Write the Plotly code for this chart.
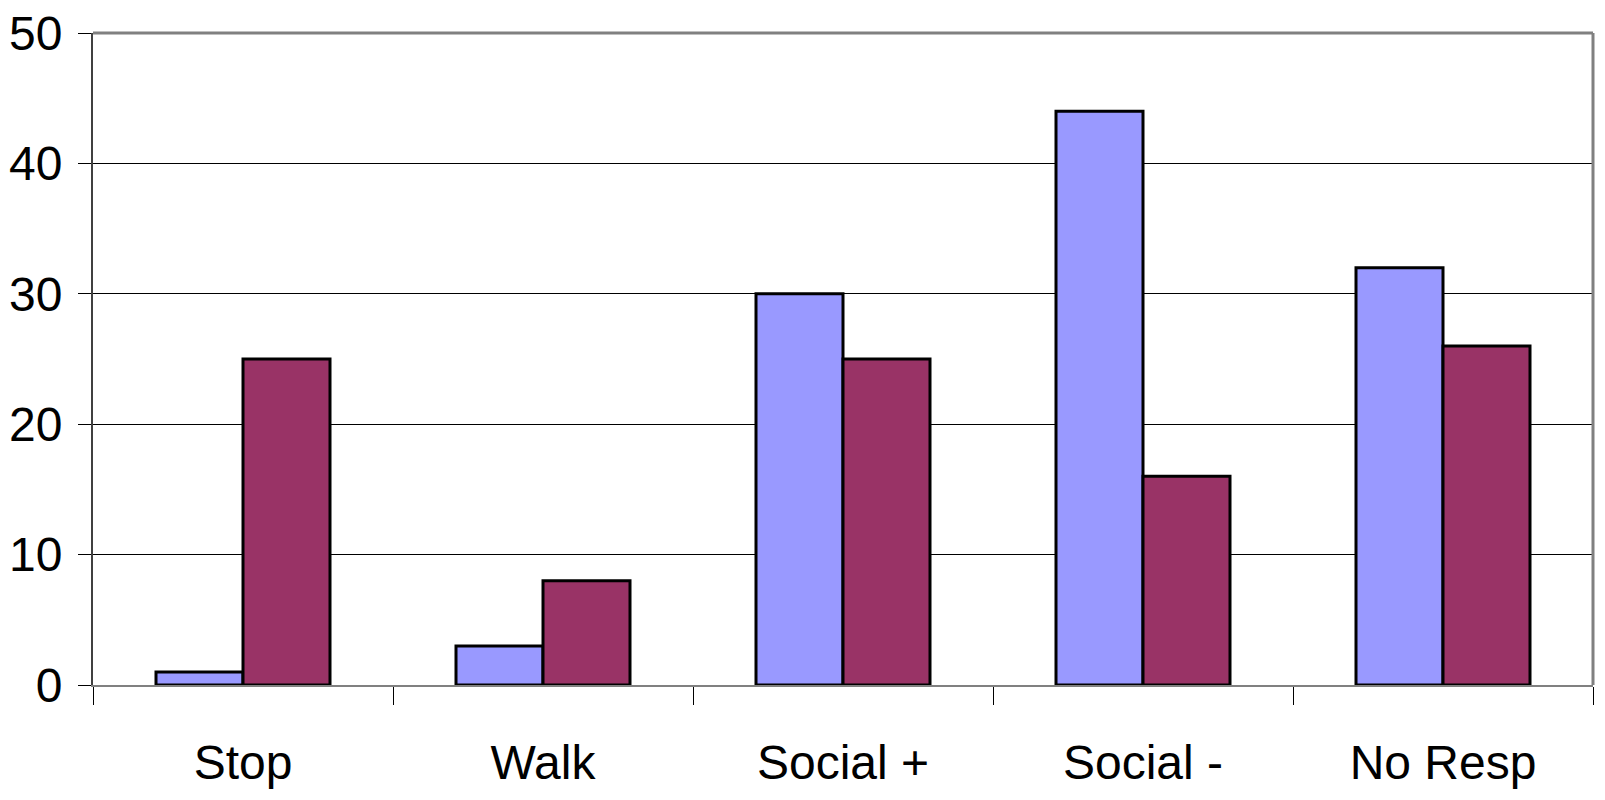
import plotly.graph_objects as go

categories = ["Stop", "Walk", "Social +", "Social -", "No Resp"]
series_a = [1, 3, 30, 44, 32]
series_b = [25, 8, 25, 16, 26]
y_ticks = [0, 10, 20, 30, 40, 50]

FONT = "Liberation Sans, Arial, sans-serif"

fig = go.Figure()
fig.add_trace(go.Bar(x=categories, y=series_a, marker=dict(color="#9999FF", line=dict(color="black", width=3)), showlegend=False))
fig.add_trace(go.Bar(x=categories, y=series_b, marker=dict(color="#993366", line=dict(color="black", width=3)), showlegend=False))

fig.update_layout(
    width=1605, height=800,
    margin=dict(l=93, r=12, t=33, b=115),
    paper_bgcolor="white", plot_bgcolor="white",
    barmode="group", bargap=0.42, bargroupgap=0,
    font=dict(family=FONT, size=48, color="black"),
    xaxis=dict(
        type="category", tickson="boundaries", ticks="outside", ticklen=18,
        tickcolor="black", tickwidth=1, showline=True, linecolor="#808080", linewidth=2,
        showgrid=False, ticklabelstandoff=34, automargin=False,
        tickfont=dict(family=FONT, size=48),
    ),
    yaxis=dict(
        range=[0, 50], tickvals=y_ticks, ticks="outside", ticklen=13,
        tickcolor="black", tickwidth=1, showline=True, linecolor="#404040", linewidth=2,
        showgrid=True, gridcolor="black", gridwidth=1, zeroline=False,
        ticklabelstandoff=6, automargin=False, tickfont=dict(family=FONT, size=48),
    ),
)
# gray frame on top and right
fig.add_shape(type="line", xref="paper", yref="paper", x0=0, x1=1, y0=1, y1=1, line=dict(color="#808080", width=3))
fig.add_shape(type="line", xref="paper", yref="paper", x0=1, x1=1, y0=0, y1=1, line=dict(color="#808080", width=3))

fig.write_html("out.html")
